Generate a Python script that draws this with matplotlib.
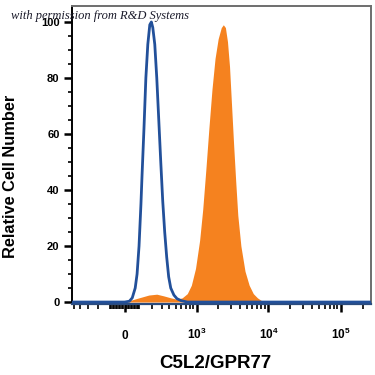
import numpy as np
import matplotlib
matplotlib.use("Agg")
import matplotlib.pyplot as plt

# ---- data (fluorescence intensity, relative cell number) ----
control_x = [-530, 0, 31, 50, 70, 83, 97, 111, 119, 134, 149, 165, 182, 196, 209, 228,
             248, 269, 291, 314, 338, 364, 391, 421, 470, 523, 601, 739, 262144]
control_y = [0, 0, 0.3, 1.5, 5, 10, 20, 35, 45, 62, 80, 92, 99, 100, 98, 92,
             80, 65, 50, 36, 25, 16, 9, 5, 2.5, 1.2, 0.5, 0, 0]

stained_x = [0, 31, 97, 174, 248, 326, 421, 523, 624, 739, 845, 968, 1106, 1222, 1350,
             1491, 1648, 1818, 2009, 2219, 2370, 2532, 2705, 2890, 3086, 3296, 3521,
             3761, 4152, 4734, 5402, 6163, 7031, 8014, 9450]
stained_y = [0, 0.5, 1.5, 2.5, 2.8, 2.2, 1.5, 1.0, 1.5, 3, 6, 12, 22, 33, 47,
             62, 76, 87, 94, 98, 99, 98, 93, 84, 70, 56, 43,
             31, 20, 11, 6, 3, 1.5, 0.5, 0]

x_major = [0, 1e3, 1e4, 1e5]
x_major_labels = [r'$\mathbf{0}$', r'$\mathbf{10^3}$', r'$\mathbf{10^4}$', r'$\mathbf{10^5}$']
x_minor = ([-500, -400, -300, -200, -100] + list(range(-90, 0, 10)) + list(range(10, 100, 10))
           + list(range(100, 1000, 100)) + list(range(2000, 10000, 1000))
           + list(range(20000, 100000, 10000)) + [200000])
y_major = [0, 20, 40, 60, 80, 100]
y_minor = list(range(0, 105, 5))

BLUE = '#22509a'
ORANGE = '#f5821f'

C = 205.0
def fwd(v):
    return np.arcsinh(np.asarray(v, dtype=float) / C) / np.log(10)
def inv(v):
    return C * np.sinh(np.asarray(v, dtype=float) * np.log(10))

plt.rcParams['font.family'] = ['Liberation Sans', 'DejaVu Sans']
plt.rcParams['mathtext.fontset'] = 'custom'
plt.rcParams['mathtext.rm'] = 'Liberation Sans'
plt.rcParams['mathtext.bf'] = 'Liberation Sans:bold'

fig = plt.figure(figsize=(3.75, 3.75), dpi=100)
ax = fig.add_axes([72/375, 1-304/375, (371-72)/375, (304-6)/375])
ax.set_xscale('function', functions=(fwd, inv))

ax.fill_between(stained_x, stained_y, 0, color=ORANGE, lw=0, zorder=2)
ax.plot(control_x, control_y, color=BLUE, lw=2.0, zorder=3, solid_joinstyle='round')

ax.set_xlim(-530, 262144)
ax.set_ylim(-0.7, 105.7)

ax.set_xticks(x_major)
ax.set_xticklabels(x_major_labels, fontsize=8.5, va='baseline')
ax.set_xticks(x_minor, minor=True)
ax.set_yticks(y_major)
ax.set_yticklabels([str(v) for v in y_major], fontsize=8, fontweight='bold')
ax.set_yticks(y_minor, minor=True)

ax.tick_params(axis='x', which='major', length=6, width=1.8, pad=19, color='black')
ax.tick_params(axis='x', which='minor', length=3.5, width=1.2, color='black')
ax.tick_params(axis='y', which='major', length=6, width=1.8, pad=3, color='black')
ax.tick_params(axis='y', which='minor', length=3, width=1.2, color='black')

for s in ['top', 'right']:
    ax.spines[s].set_color('#6e6e6e')
    ax.spines[s].set_linewidth(1.4)
ax.spines['left'].set_color('black')
ax.spines['left'].set_linewidth(1.4)
ax.spines['bottom'].set_color('#2b4c7e')
ax.spines['bottom'].set_linewidth(1.6)

fig.text(11/375, 1-176/375, 'Relative Cell Number', rotation=90, ha='center', va='center',
         fontsize=11.8, fontweight='bold')
fig.text(215/375, 1-363/375, 'C5L2/GPR77', ha='center', va='center',
         fontsize=13.5, fontweight='bold')
fig.text(11/375, 1-16/375, 'with permission from R&D Systems', ha='left', va='center',
         fontsize=9, style='italic', family=['Liberation Serif', 'DejaVu Serif'],
         color='#1a1a2a', zorder=10)

fig.savefig('out.png', dpi=100)
